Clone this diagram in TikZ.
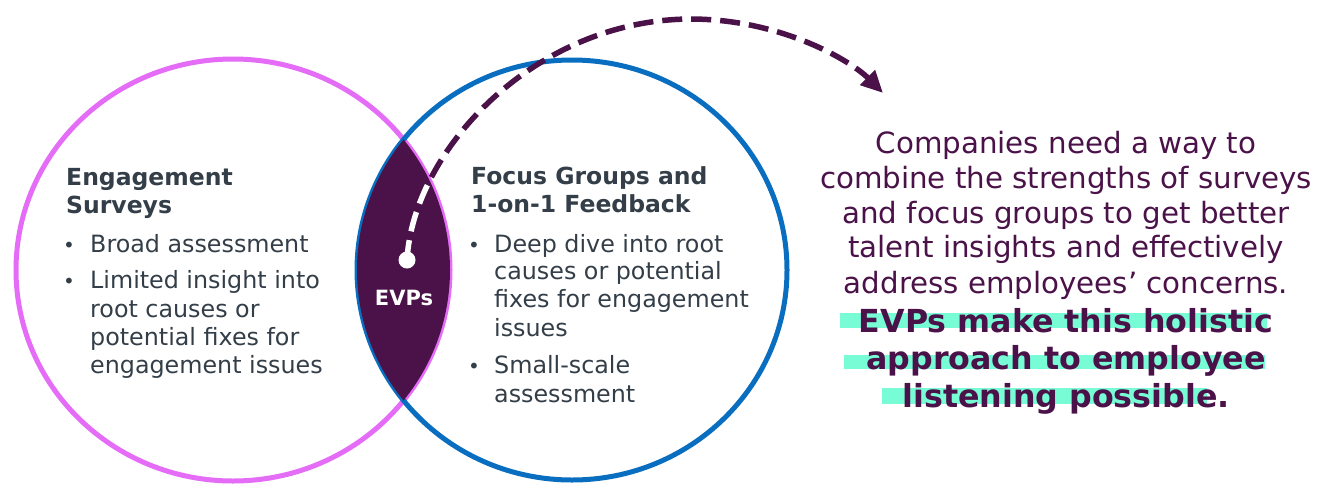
\documentclass[tikz,border=0pt]{standalone}
\usepackage{fontspec}
\setmainfont{DejaVu Sans}
\usetikzlibrary{arrows.meta}
\definecolor{evppurple}{HTML}{4A1248}
\definecolor{surveypink}{HTML}{E46CF7}
\definecolor{focusblue}{HTML}{0A6EC0}
\definecolor{slatetext}{HTML}{333E48}
\definecolor{markgreen}{HTML}{78FCD6}

\begin{document}
\begin{tikzpicture}[x=1pt,y=-1pt,
  headline/.style={anchor=base west,inner sep=0pt,text=slatetext,font=\fontsize{23.5}{28}\selectfont\bfseries},
  bodyline/.style={anchor=base west,inner sep=0pt,text=slatetext,font=\fontsize{23.8}{28}\selectfont},
  bulletdot/.style={anchor=base west,inner sep=0pt,text=slatetext,font=\fontsize{20}{24}\selectfont},
  noteline/.style={anchor=base,inner sep=0pt,text=evppurple,font=\fontsize{29.3}{35}\selectfont},
  boldnoteline/.style={anchor=base,inner sep=0pt,text=evppurple,font=\fontsize{31.7}{37}\selectfont\bfseries},
  markbar/.style={fill=markgreen,draw=none},
  ring/.style={line width=5pt},
  arrowline/.style={evppurple,line width=5.5pt,dash pattern=on 20pt off 9pt,
    -{Triangle[length=22pt,width=20pt]}}]
\useasboundingbox (0,0) rectangle (1330,483);
%Centres of the two circles
\coordinate (surveyCentre) at (233,270);
\coordinate (focusCentre) at (572,270);
%Outer rings
\draw[ring,surveypink] (surveyCentre) ellipse [x radius=217,y radius=211];
\draw[ring,focusblue] (focusCentre) ellipse [x radius=215,y radius=210];
%The overlap
\begin{scope}
\clip (surveyCentre) ellipse [x radius=217,y radius=211];
\fill[evppurple] (focusCentre) ellipse [x radius=215,y radius=210];
\end{scope}
\node[inner sep=0pt,anchor=base,text=white,font=\fontsize{21}{24}\selectfont\bfseries] (evpLabel) at (404,305) {EVPs};
%Dashed arrow out of the overlap
\coordinate (evpStart) at (407,260);
\coordinate (arrowTop) at (690,19);
\coordinate (arrowEnd) at (883,93);
\draw[arrowline] (evpStart) .. controls (413,150) and (535,20) .. (arrowTop)
  .. controls (780,19) and (850,60) .. (arrowEnd);
\begin{scope}
\clip (surveyCentre) ellipse [x radius=217,y radius=211];
\clip (focusCentre) ellipse [x radius=215,y radius=210];
\draw[white,line width=5.5pt,dash pattern=on 20pt off 9pt] (evpStart) .. controls (413,150) and (535,20) .. (arrowTop);
\end{scope}
\node[circle,fill=white,inner sep=0pt,minimum size=17pt] (evpDot) at (evpStart) {};
%Left circle text
\node[headline] (surveyHead1) at (66,185) {Engagement};
\node[headline] (surveyHead2) at (66,213) {Surveys};
\node[bulletdot] (surveyDot1) at (63,252) {•};
\node[bodyline] (survey1) at (90,252) {Broad assessment};
\node[bulletdot] (surveyDot2) at (63,288) {•};
\node[bodyline] (survey2) at (90,288) {Limited insight into};
\node[bodyline] (survey3) at (90,317) {root causes or};
\node[bodyline] (survey4) at (90,345) {potential fixes for};
\node[bodyline] (survey5) at (90,373) {engagement issues};
%Right circle text
\node[headline] (focusHead1) at (471,184) {Focus Groups and};
\node[headline] (focusHead2) at (471,212) {1-on-1 Feedback};
\node[bulletdot] (focusDot1) at (468,252) {•};
\node[bodyline] (focus1) at (494,252) {Deep dive into root};
\node[bodyline] (focus2) at (494,279) {causes or potential};
\node[bodyline] (focus3) at (494,307) {fixes for engagement};
\node[bodyline] (focus4) at (494,336) {issues};
\node[bulletdot] (focusDot2) at (468,373) {•};
\node[bodyline] (focus5) at (494,373) {Small-scale};
\node[bodyline] (focus6) at (494,402) {assessment};
%Note on the right
\node[noteline] (note1) at (1066,153) {Companies need a way to};
\node[noteline] (note2) at (1066,188) {combine the strengths of surveys};
\node[noteline] (note3) at (1066,223) {and focus groups to get better};
\node[noteline] (note4) at (1066,257) {talent insights and effectively};
\node[noteline] (note5) at (1066,293) {address employees’ concerns.};
%Highlight bars
\fill[markbar] (840,313) rectangle (1267,328);
\fill[markbar] (844,355) rectangle (1265,369);
\fill[markbar] (882,388) rectangle (1207,404);
\node[boldnoteline] (boldNote1) at (1066,332) {EVPs make this holistic};
\node[boldnoteline] (boldNote2) at (1066,369) {approach to employee};
\node[boldnoteline] (boldNote3) at (1066,407) {listening possible.};
\end{tikzpicture}
\end{document}
